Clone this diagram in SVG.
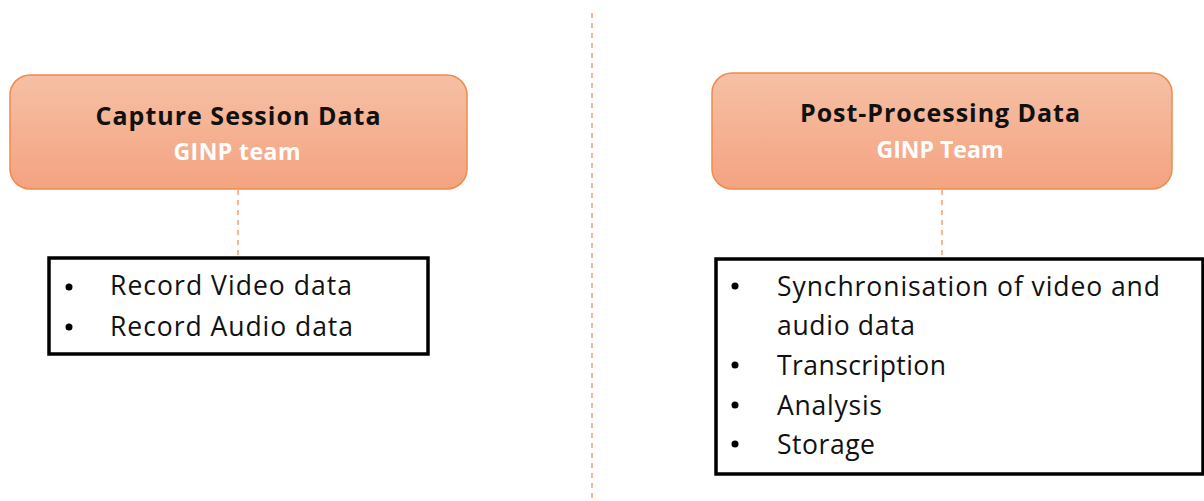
<svg xmlns="http://www.w3.org/2000/svg" width="1204" height="501" viewBox="0 0 1204 501">
<defs>
<linearGradient id="g" x1="0" y1="0" x2="0" y2="1">
<stop offset="0" stop-color="#F6C0A5"/>
<stop offset="1" stop-color="#F4A380"/>
</linearGradient>
</defs>
<style>
.head{fill:url(#g);stroke:#EE8B4E;stroke-width:1.5}
.list{fill:#fff;stroke:#000;stroke-width:3.5}
.t{font-family:"Open Sans","Liberation Sans",sans-serif;font-weight:bold;font-size:25px;fill:#111;text-anchor:middle}
.s{font-family:"Open Sans","Liberation Sans",sans-serif;font-weight:bold;font-size:23px;fill:#fff;text-anchor:middle}
.l{font-family:"Open Sans","Liberation Sans",sans-serif;font-size:26.5px;fill:#111}
.dash{stroke:#F2A070;stroke-width:1.5;stroke-dasharray:5 5;fill:none}
</style>
<g id="connectors">
<line class="dash" x1="592" y1="13" x2="592" y2="501"/>
<line class="dash" x1="238" y1="190" x2="238" y2="258"/>
<line class="dash" x1="942" y1="190" x2="942" y2="258"/>
</g>
<g id="capture">
<rect class="head" x="10" y="75" width="457" height="114" rx="20"/>
<text class="t" x="238" y="125" textLength="285">Capture Session Data</text>
<text class="s" x="237" y="160" textLength="127">GINP team</text>
</g>
<g id="post">
<rect class="head" x="712" y="73" width="460" height="116" rx="20"/>
<text class="t" x="940" y="122" textLength="280">Post-Processing Data</text>
<text class="s" x="940" y="158" textLength="127">GINP Team</text>
</g>
<g id="capture-list">
<rect class="list" x="49" y="258" width="379" height="96"/>
<circle cx="69" cy="287" r="3.5"/>
<circle cx="69" cy="327" r="3.5"/>
<text class="l" x="110" y="295" textLength="242">Record Video data</text>
<text class="l" x="110" y="336" textLength="243">Record Audio data</text>
</g>
<g id="post-list">
<rect class="list" x="716" y="259" width="487" height="215"/>
<circle cx="735" cy="286" r="3.5"/>
<circle cx="735" cy="365" r="3.5"/>
<circle cx="735" cy="405" r="3.5"/>
<circle cx="735" cy="444" r="3.5"/>
<text class="l" x="777" y="296" textLength="383">Synchronisation of video and</text>
<text class="l" x="777" y="335" textLength="138">audio data</text>
<text class="l" x="777" y="375" textLength="169">Transcription</text>
<text class="l" x="777" y="415" textLength="105">Analysis</text>
<text class="l" x="777" y="454" textLength="98">Storage</text>
</g>
</svg>
